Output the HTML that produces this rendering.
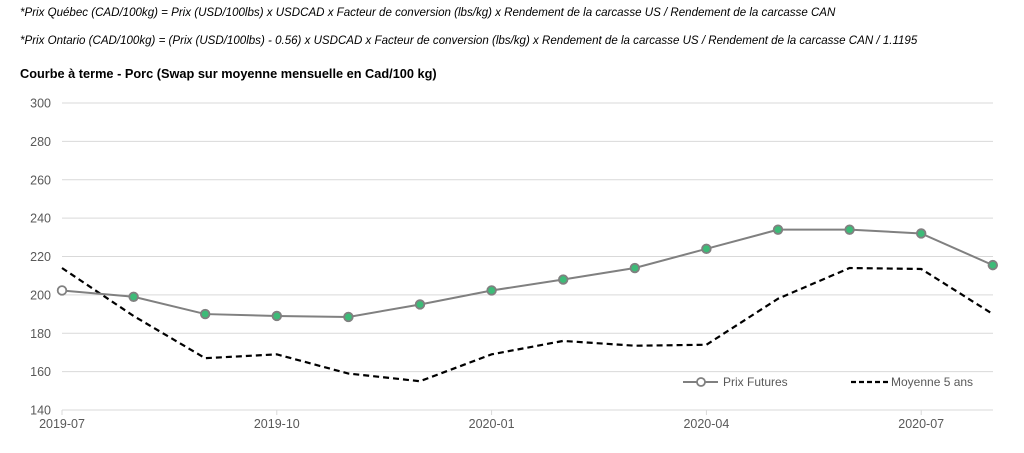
<!DOCTYPE html>
<html><head><meta charset="utf-8"><style>
body{margin:0;background:#fff;width:1024px;height:453px;overflow:hidden;font-family:"Liberation Sans",sans-serif}
.note{position:absolute;left:20px;font-size:11.55px;font-style:italic;color:#000}
.title{position:absolute;left:20px;top:66px;font-size:12.75px;font-weight:bold;color:#000}
</style></head><body>
<div class="note" style="top:7px">*Prix Québec (CAD/100kg) = Prix (USD/100lbs) x USDCAD x Facteur de conversion (lbs/kg) x Rendement de la carcasse US / Rendement de la carcasse CAN</div>
<div class="note" style="top:35px">*Prix Ontario (CAD/100kg) = (Prix (USD/100lbs) - 0.56) x USDCAD x Facteur de conversion (lbs/kg) x Rendement de la carcasse US / Rendement de la carcasse CAN / 1.1195</div>
<div class="title">Courbe à terme - Porc (Swap sur moyenne mensuelle en Cad/100 kg)</div>
<svg id="chart" width="1024" height="453" style="position:absolute;left:0;top:0"></svg>
<script>
const months=["2019-07","2019-08","2019-09","2019-10","2019-11","2019-12","2020-01","2020-02","2020-03","2020-04","2020-05","2020-06","2020-07","2020-08"];
const futures=[202.3,199,190,189,188.5,195,202.3,208,214,224,234,234,232,215.5];
const avg5=[214,189,167,169,159,155,169,176,173.5,174,198,214,213.5,190];
const yTicks=[140,160,180,200,220,240,260,280,300];
const xLabelIdx=[0,3,6,9,12];
const NS="http://www.w3.org/2000/svg";
const svg=document.getElementById('chart');
const X0=62,STEP=71.6,Y0=410,YPX=307/160,XEND=993;
const x=i=>X0+i*STEP, y=v=>Y0-(v-140)*YPX;
function mk(t,a){const e=document.createElementNS(NS,t);for(const k in a)e.setAttribute(k,a[k]);svg.appendChild(e);return e;}
yTicks.forEach(v=>{
 const g=mk('line',{x1:X0,x2:XEND,y1:y(v),y2:y(v),stroke:'#d9d9d9','stroke-width':1});
 
 
 const t=mk('text',{x:51,y:y(v)+4.5,'text-anchor':'end','font-size':12.5,fill:'#595959','font-family':'Liberation Sans'});
 t.textContent=v;
 
 
});
xLabelIdx.forEach(i=>{
 const tk=mk('line',{x1:x(i),x2:x(i),y1:Y0,y2:Y0+5,stroke:'#d9d9d9'});
 
 
 const t=mk('text',{x:x(i),y:428,'text-anchor':'middle','font-size':12.5,fill:'#595959','font-family':'Liberation Sans'});
 t.textContent=months[i];
 
 
});
const la=mk('polyline',{points:avg5.map((v,i)=>x(i)+','+y(v)).join(' '),fill:'none',stroke:'#000','stroke-width':2.2,'stroke-dasharray':'6,4'});


const lf=mk('polyline',{points:futures.map((v,i)=>x(i)+','+y(v)).join(' '),fill:'none',stroke:'#808080','stroke-width':2});


futures.forEach((v,i)=>{
 const c=mk('circle',{cx:x(i),cy:y(v),r:4.3,fill:i===0?'#fff':'#3dbb78',stroke:'#808080','stroke-width':1.8});
 
 
});
const l1=mk('line',{x1:683,x2:718,y1:382,y2:382,stroke:'#808080','stroke-width':2});


const l1c=mk('circle',{cx:701,cy:382,r:4,fill:'#fff',stroke:'#808080','stroke-width':1.8});


const t1=mk('text',{x:723,y:386,'font-size':12,fill:'#595959','font-family':'Liberation Sans'});
t1.textContent='Prix Futures';


const l2=mk('line',{x1:851,x2:888,y1:382,y2:382,stroke:'#000','stroke-width':2.2,'stroke-dasharray':'5,3'});


const t2=mk('text',{x:891,y:386,'font-size':12,fill:'#595959','font-family':'Liberation Sans'});
t2.textContent='Moyenne 5 ans';


</script>
</body></html>
